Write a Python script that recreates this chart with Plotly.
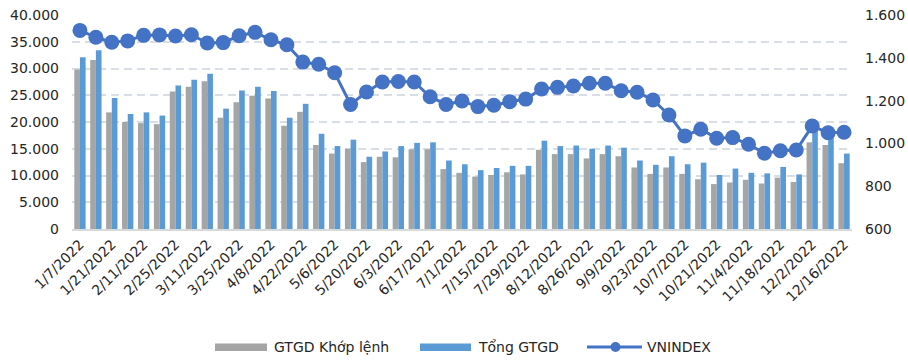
import plotly.graph_objects as go

# Weekly trading weeks of 2022 (the Tet week of 4 Feb has no session)
weeks = [
    "1/7/2022", "1/14/2022", "1/21/2022", "1/28/2022", "2/11/2022", "2/18/2022",
    "2/25/2022", "3/4/2022", "3/11/2022", "3/18/2022", "3/25/2022", "4/1/2022",
    "4/8/2022", "4/15/2022", "4/22/2022", "4/29/2022", "5/6/2022", "5/13/2022",
    "5/20/2022", "5/27/2022", "6/3/2022", "6/10/2022", "6/17/2022", "6/24/2022",
    "7/1/2022", "7/8/2022", "7/15/2022", "7/22/2022", "7/29/2022", "8/5/2022",
    "8/12/2022", "8/19/2022", "8/26/2022", "9/2/2022", "9/9/2022", "9/16/2022",
    "9/23/2022", "9/30/2022", "10/7/2022", "10/14/2022", "10/21/2022", "10/28/2022",
    "11/4/2022", "11/11/2022", "11/18/2022", "11/25/2022", "12/2/2022", "12/9/2022",
    "12/16/2022",
]

# Matched-order trading value (bn VND)
gtgd_khop_lenh = [
    29800, 31600, 21800, 20000, 19800, 19600, 25700, 26600, 27600, 20800,
    23700, 24900, 24400, 19300, 21900, 15700, 14100, 15000, 12500, 13500,
    13400, 14900, 14900, 11200, 10500, 9800, 10100, 10600, 10200, 14800,
    14000, 14000, 13200, 14000, 13600, 11500, 10300, 11500, 10300, 9300,
    8400, 8700, 9200, 8500, 9600, 8800, 16200, 15700, 12300,
]

# Total trading value (bn VND)
tong_gtgd = [
    32100, 33400, 24500, 21500, 21800, 21200, 26800, 27900, 29000, 22500,
    25900, 26600, 25800, 20800, 23400, 17800, 15500, 16700, 13500, 14500,
    15500, 16100, 16200, 12800, 12100, 11000, 11400, 11800, 11800, 16500,
    15500, 15600, 15000, 15600, 15200, 12800, 12000, 13600, 12100, 12400,
    10100, 11300, 10500, 10400, 11600, 10200, 19000, 17800, 14100,
]

# VN-Index weekly close (points)
vnindex = [
    1528, 1496, 1473, 1479, 1505, 1507, 1502, 1508, 1469, 1471,
    1503, 1519, 1484, 1461, 1380, 1370, 1330, 1182, 1240, 1287,
    1289, 1287, 1218, 1182, 1198, 1172, 1178, 1195, 1207, 1254,
    1262, 1268, 1281, 1281, 1246, 1239, 1203, 1133, 1035, 1066,
    1024, 1027, 996, 954, 966, 969, 1081, 1050, 1052,
]

tick_weeks = weeks[::2]

GREY = "#A5A5A5"
BLUE = "#5B9BD5"
LINE = "#4472C4"
TEXT = "#262626"
GRID = "#D9DEE6"
FONT = "DejaVu Sans"

fig = go.Figure()
fig.add_trace(go.Bar(x=weeks, y=gtgd_khop_lenh, name="GTGD Khớp lệnh",
                     marker=dict(color=GREY, line=dict(width=0))))
fig.add_trace(go.Bar(x=weeks, y=tong_gtgd, name="Tổng GTGD",
                     marker=dict(color=BLUE, line=dict(width=0))))
fig.add_trace(go.Scatter(x=weeks, y=vnindex, name="VNINDEX", yaxis="y2",
                         mode="lines+markers",
                         line=dict(color=LINE, width=3),
                         marker=dict(color=LINE, size=15)))

# plot-area geometry in pixels, used to place the hand-drawn legend
L, R, T, B = 72, 852, 15, 229
W, H = R - L, B - T


def px(x):
    return (x - L) / W


def py(y):
    return (B - y) / H


legend_y = 347
shapes = [
    dict(type="rect", xref="paper", yref="paper", x0=px(215), x1=px(267),
         y0=py(343.5), y1=py(351), fillcolor=GREY, line=dict(width=0)),
    dict(type="rect", xref="paper", yref="paper", x0=px(420), x1=px(471),
         y0=py(343.5), y1=py(351), fillcolor=BLUE, line=dict(width=0)),
    dict(type="line", xref="paper", yref="paper", x0=px(587), x1=px(642),
         y0=py(legend_y), y1=py(legend_y), line=dict(color=LINE, width=3)),
    dict(type="circle", xref="paper", yref="paper", x0=px(610.5), x1=px(620.5),
         y0=py(352), y1=py(342), fillcolor=LINE, line=dict(width=0)),
]
annotations = [
    dict(text=t, x=px(x0), y=py(legend_y), xref="paper", yref="paper",
         xanchor="left", yanchor="middle", showarrow=False,
         font=dict(family=FONT, size=14, color=TEXT))
    for t, x0 in [("GTGD Khớp lệnh", 272), ("Tổng GTGD", 476), ("VNINDEX", 645)]
]

fig.update_layout(
    width=908, height=360,
    margin=dict(l=L, r=908 - R, t=T, b=360 - B, pad=0),
    paper_bgcolor="white", plot_bgcolor="white",
    separators=",.",
    barmode="group", bargap=0.29, bargroupgap=0,
    showlegend=False,
    font=dict(family=FONT, size=13, color=TEXT),
    shapes=shapes, annotations=annotations,
    xaxis=dict(
        type="category", tickmode="array", tickvals=tick_weeks, ticktext=tick_weeks,
        range=[-0.5, len(weeks) - 0.5], autorange=False,
        tickangle=-45, showgrid=False, showline=True, linecolor="#D9D9D9",
        linewidth=1.5, ticks="", tickfont=dict(size=14, color=TEXT),
        automargin=False,
    ),
    yaxis=dict(
        range=[0, 40000], dtick=5000, tickformat=",d", showgrid=True,
        gridcolor=GRID, gridwidth=1.5, griddash="8px,5px", zeroline=False,
        showline=False, ticks="", tickfont=dict(size=14, color=TEXT),
        automargin=False, ticklabelstandoff=12,
    ),
    yaxis2=dict(
        range=[600, 1600], dtick=200, tickformat=",d", overlaying="y", side="right",
        showgrid=False, zeroline=False, showline=False, ticks="",
        tickfont=dict(size=14, color=TEXT), automargin=False, ticklabelstandoff=12,
    ),
)

fig.write_html("out.html")
